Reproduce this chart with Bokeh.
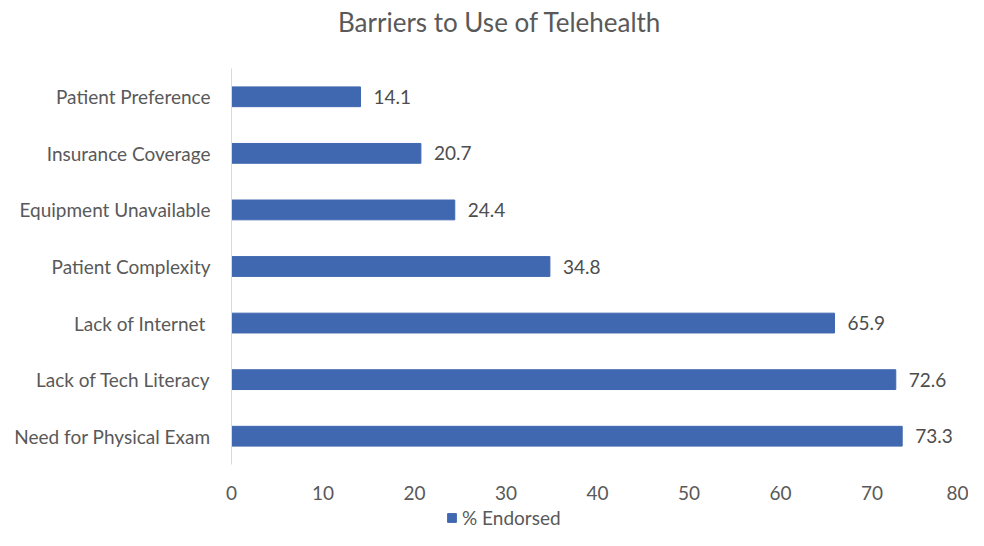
from bokeh.plotting import figure
from bokeh.models import ColumnDataSource, Legend, LegendItem, Range1d, FixedTicker, Div
from bokeh.layouts import column
from bokeh.embed import file_html
from bokeh.resources import INLINE
from bokeh.core.properties import value

title_text = "Barriers to Use of Telehealth"
categories = ["Patient Preference", "Insurance Coverage", "Equipment Unavailable",
              "Patient Complexity", "Lack of Internet ", "Lack of Tech Literacy",
              "Need for Physical Exam"]
endorsed = [14.1, 20.7, 24.4, 34.8, 65.9, 72.6, 73.3]
x_ticks = [0, 10, 20, 30, 40, 50, 60, 70, 80]
series_name = "% Endorsed"

FONT = "Lato"
GREY = "#595959"
BAR = "#4068B0"

src = ColumnDataSource(dict(cat=categories, val=endorsed,
                            lab=[f"{v:.1f}" for v in endorsed]))

title = Div(text=title_text, width=968, height=46, margin=0,
            styles={"font-family": FONT, "font-size": "26px", "color": GREY,
                    "padding-left": "338px", "padding-top": "6px",
                    "line-height": "32px", "white-space": "nowrap"})

x_range = Range1d(0, 80)
y_range = list(reversed(categories))

p = figure(width=968, height=458, output_backend="svg", toolbar_location=None,
           y_range=y_range, x_range=x_range,
           min_border_left=231, min_border_right=5, min_border_top=22,
           min_border_bottom=40)
p.outline_line_color = None
p.grid.visible = False

p.hbar(y="cat", right="val", left=0, height=0.35, color=BAR, source=src)
p.text(x="val", y="cat", text="lab", source=src, x_offset=13, text_baseline="middle",
       text_align="left", text_font=value(FONT), text_font_size="19px", text_color="#4d4d4d")

xa = p.xaxis[0]
xa.ticker = FixedTicker(ticks=x_ticks)
xa.axis_line_color = None
xa.major_tick_line_color = None
xa.minor_tick_line_color = None
xa.major_label_text_font = FONT
xa.major_label_text_font_size = "19px"
xa.major_label_text_color = GREY
xa.major_label_standoff = 15

ya = p.yaxis[0]
ya.axis_line_color = "#d9d9d9"
ya.major_tick_line_color = None
ya.minor_tick_line_color = None
ya.major_label_text_font = FONT
ya.major_label_text_font_size = "19px"
ya.major_label_text_color = GREY
ya.major_label_standoff = 15

# legend strip below the chart
leg = figure(width=968, height=26, output_backend="svg", toolbar_location=None,
             x_range=p.x_range, y_range=p.y_range, x_axis_type=None, y_axis_type=None,
             min_border_left=231, min_border_right=5, min_border_top=0, min_border_bottom=0)
leg.grid.visible = False
leg.outline_line_color = None
key = leg.hbar(y="cat", right="val", left=0, height=0.35, color=BAR, source=src, visible=False)
legend = Legend(items=[LegendItem(label=series_name, renderers=[key])],
                orientation="horizontal", location=(215, 1),
                label_text_font=FONT, label_text_font_size="19px", label_text_color=GREY,
                glyph_width=11, glyph_height=11, label_standoff=5,
                inactive_fill_alpha=0,
                border_line_color=None, background_fill_alpha=0, padding=0, margin=0)
leg.add_layout(legend, "center")

layout = column(title, p, leg, spacing=0)
open("out.html", "w").write(file_html(layout, INLINE))
